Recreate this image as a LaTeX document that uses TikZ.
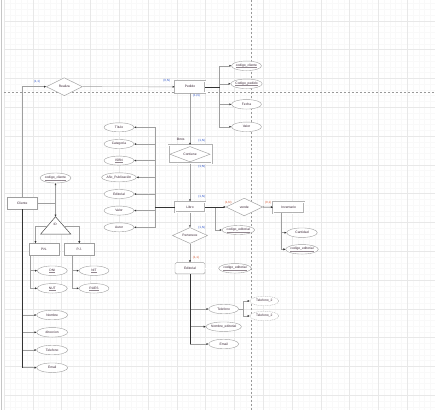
\documentclass[tikz,border=0pt]{standalone}
\usepackage{fontspec}
\setmainfont{Liberation Sans}
\usetikzlibrary{shapes.geometric,arrows.meta,calc}
\definecolor{cardblue}{RGB}{40,80,200}
\definecolor{cardred}{RGB}{215,85,45}
\definecolor{txt}{RGB}{55,35,50}
\newcommand{\ulx}[1]{\vtop{\hbox{#1}\kern0.25pt{\color{txt!55}\hrule height 0.1pt}}}
\begin{document}
\begin{tikzpicture}[x=1pt,y=-1pt,
  font=\fontsize{3.3}{3.8}\selectfont,
  every node/.style={inner sep=0pt, text=txt},
  ent/.style={draw=gray!75, line width=0.45pt, fill=white, minimum width=30pt, minimum height=11.5pt},
  went/.style={ent, double=white, double distance=0.4pt, draw=gray!60, line width=0.8pt},
  attr/.style={ellipse, draw=gray!75, line width=0.4pt, fill=white, minimum width=30pt, minimum height=9.5pt},
  mattr/.style={attr, dash pattern=on 1pt off 0.8pt, draw=gray!60},
  rel/.style={diamond, aspect=2, draw=gray!75, line width=0.45pt, fill=white, minimum width=36pt, minimum height=18pt},
  con/.style={draw=gray!75, line width=0.45pt},
  trunk/.style={draw=black!80, line width=0.55pt},
  arr/.style={-{Triangle[length=2pt,width=1.8pt,color=black!80]}},
  card/.style={text=cardblue, font=\fontsize{3}{3.5}\selectfont},
  cardr/.style={card, text=cardred},
  gridmin/.style={draw=black!2.5, line width=0.2pt},
  gridmaj/.style={draw=black!9, line width=0.3pt},
  guide/.style={draw=gray!80, line width=0.45pt, dash pattern=on 2pt off 2pt}
]
\useasboundingbox (0,0) rectangle (435,410);
\fill[white] (0,0) rectangle (435,410);
% grid
\begin{scope}
\clip (3.9,0) rectangle (435,410);
\foreach \i in {0,...,74} \draw[gridmin] (3.9+5.76*\i,0) -- (3.9+5.76*\i,410);
\foreach \j in {1,...,72} \draw[gridmin] (3.9,-8.1+5.76*\j) -- (435,-8.1+5.76*\j);
\foreach \i in {0,...,14} \draw[gridmaj] (3.9+28.8*\i,0) -- (3.9+28.8*\i,410);
\foreach \j in {1,...,14} \draw[gridmaj] (3.9,-8.1+28.8*\j) -- (435,-8.1+28.8*\j);
\end{scope}
\draw[gray!45, line width=0.8pt] (1.6,0) -- (1.6,410);
\draw[guide] (251,0) -- (251,410);
\draw[guide] (3.9,92.4) -- (435,92.4);

% ---------- nodes ----------
\node[rel] (rea) at (64.3,86.7) {Realiza};
\node[went] (ped) at (190,86.8) {Pedido};
\node[attr] (pa1) at (246.5,65.8) {\ulx{codigo\_cliente}};
\node[attr] (pa2) at (246.5,83.8) {\ulx{Codigo\_pedido}};
\node[attr] (pa3) at (246.5,104.3) {Fecha};
\node[attr] (pa4) at (246.5,126.8) {Valor};

\node[went, minimum width=43pt, minimum height=18pt] (cont) at (190,154.2) {};
\draw[draw=gray!75, line width=0.45pt] ($(cont.north)+(0,1.8)$) -- ($(cont.east)+(-1.8,0)$) -- ($(cont.south)+(0,-1.8)$) -- ($(cont.west)+(1.8,0)$) -- cycle;
\node (contt) at (cont.center) {Contiene};

\node[went, minimum height=10.6pt] (lib) at (190,207) {Libro};
\node[attr, minimum height=9pt] (la1) at (119,127.3) {Título};
\node[attr, minimum height=9pt] (la2) at (119,144) {Categoría};
\node[attr, minimum height=9pt] (la3) at (119,160.6) {\ulx{ISBN}};
\node[attr, minimum height=9pt] (la4) at (119,177.3) {Año\_Publicación};
\node[attr, minimum height=9pt] (la5) at (119,194) {Editorial};
\node[attr, minimum height=9pt] (la6) at (119,210.6) {Valor};
\node[attr, minimum height=9pt] (la7) at (119,227.3) {Autor};

\node[rel, minimum width=35pt, minimum height=16pt] (per) at (190,235.5) {Pertenece};
\node[ent, rounded corners=1.5pt, minimum height=11.3pt] (edi) at (190,268.3) {Editorial};
\node[attr, minimum width=31pt] (ece) at (235,268.3) {\ulx{codigo\_editorial}};
\node[attr] (et1) at (223.7,309) {Telefono};
\node[attr] (et2) at (223.7,326.7) {Nombre\_editorial};
\node[attr] (et3) at (223.7,344) {Email};
\node[mattr, minimum width=29pt] (t2a) at (264.3,301) {Telefono\_2};
\node[mattr, minimum width=29pt] (t2b) at (264.3,316) {Telefono\_2};

\node[rel, minimum width=36.7pt, minimum height=17.7pt] (ven) at (244.3,207) {vende};
\node[went, minimum width=30.7pt, minimum height=11pt] (inv) at (288.7,207.2) {Inventario};
\node[attr, minimum width=30.6pt] (ic1) at (302,232.7) {Cantidad};
\node[attr, minimum width=30.6pt] (ic2) at (302,249.3) {\ulx{codigo\_editorial}};
\node[attr, minimum height=9pt] (lce) at (238.3,230) {\ulx{codigo\_editorial}};

\node[ent, minimum height=12.3pt] (cli) at (22.3,203) {Cliente};
\node[attr, minimum width=31pt, minimum height=10pt] (cc) at (55.5,178) {\ulx{codigo\_cliente}};
\coordinate (idA) at (55.5,216.7);
\coordinate (idBL) at (40.7,234);
\coordinate (idBR) at (70.7,234);
\draw[fill=white, draw=black!70, line width=0.5pt] (idA) -- (idBR) -- (idBL) -- cycle;
\node (idt) at (55.2,224.6) {ID};
\coordinate (idL) at ($(idA)!0.54!(idBL)$);
\coordinate (idR) at ($(idA)!0.54!(idBR)$);

\node[ent] (pn) at (44,249.2) {P.N.};
\node[ent] (pj) at (79.3,249.2) {P.J.};
\node[attr] (pn1) at (52.3,270.7) {\ulx{DNI}};
\node[attr] (pn2) at (52.3,288.3) {\ulx{NUT}};
\node[attr] (pj1) at (94,270.7) {\ulx{NIT}};
\node[attr] (pj2) at (94,288.3) {\ulx{RUES}};

\node[attr, minimum width=31pt] (ca1) at (52.2,315) {Nombre};
\node[attr, minimum width=31pt] (ca2) at (52.2,332.3) {direccion};
\node[attr, minimum width=31pt] (ca3) at (52.2,350) {Telefono};
\node[attr, minimum width=31pt] (ca4) at (52.2,367.7) {Email};

% ---------- connectors ----------
\draw[con,arr] (cli.north) |- (rea.west);
\draw[con,arr] (rea.east) -- (ped.west);

\coordinate (pedT) at (219.5,86.8);
\foreach \a in {pa1,pa2,pa3,pa4} \draw[con,arr] (pedT) |- (\a.west);
\draw[trunk] (ped.east) -- (pedT);

\draw[con,arr] (ped.south) -- (cont.north);
\draw[con,arr] (cont.south) -- (lib.north);

\coordinate (libT) at (155,207);
\foreach \a in {la1,la2,la3,la4,la5,la6,la7} \draw[con,arr] (libT) |- (\a.east);
\draw[trunk] (lib.west) -- (libT);

\draw[con,arr] (lib.south) -- (per.north);
\draw[con,arr] (per.south) -- (edi.north);

\coordinate (libC) at (215,207);
\draw[con,arr] (libC) |- (lce.west);
\draw[trunk,arr] (lib.east) -- (ven.west);
\draw[trunk,arr] (ven.east) -- (inv.west);

\coordinate (invT) at (281.7,212.7);
\draw[con,arr] (invT) |- (ic1.west);
\draw[con,arr] (invT) |- (ic2.west);

\draw[draw=gray!65, line width=0.35pt, double=white, double distance=0.5pt] (edi.east) -- (ece.west);
\foreach \a in {et1,et2,et3} \draw[con,arr] (edi.south) |- (\a.west);
\draw[trunk] (edi.south) -- (edi.south |- et3.west);
\coordinate (tsp) at (243.5,309);
\draw[con] (et1.east) -- (tsp);
\draw[con,arr] (tsp) |- (t2a.west);
\draw[con,arr] (tsp) |- (t2b.west);

\coordinate (cliR) at (55.5,203);
\draw[con] (cli.east) -- (cliR);
\draw[con,arr] (cliR) -- (cc.south);
\draw[con,arr] (cliR) -- (idA);

\coordinate (pnIn) at ($(pn.north west)+(6.7,0)$);
\draw[con,arr] (idL) -| (pnIn);
\draw[con,arr] (idR) -| (pj.north);

\coordinate (pnB) at ($(pn.south west)+(1.7,0)$);
\draw[con,arr] (pnB) |- (pn1.west);
\draw[con,arr] (pnB) |- (pn2.west);
\coordinate (pjB) at ($(pj.south west)+(8.4,0)$);
\draw[con,arr] (pjB) |- (pj1.west);
\draw[con,arr] (pjB) |- (pj2.west);

\foreach \a in {ca1,ca2,ca3,ca4} \draw[con,arr] (cli.south) |- (\a.west);
\draw[trunk] (cli.south) -- (cli.south |- ca4.west);

% ---------- labels ----------
\node[card] (k1) at (37,81.7) {(1,1)};
\node[card] (k2) at (166.7,81) {(0,N)};
\node[card] (k3) at (196.5,96) {(1,N)};
\node (k4) at (180.7,139.3) {libros};
\node[card] (k5) at (201.7,141) {(1,N)};
\node[card] (k6) at (201.7,166.7) {(1,N)};
\node[card] (k7) at (201.7,196.5) {(1,N)};
\node[card] (k8) at (201.7,227.5) {(1,N)};
\node[cardr] (k9) at (196,257.5) {(1,1)};
\node[cardr] (k10) at (228.3,202.7) {(1,N)};
\node[cardr] (k11) at (268.3,202.7) {(0,1)};
\end{tikzpicture}
\end{document}
